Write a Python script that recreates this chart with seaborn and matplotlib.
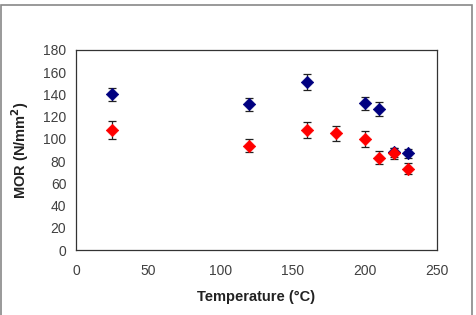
import matplotlib
matplotlib.use("Agg")
import matplotlib.pyplot as plt
import seaborn as sns
import pandas as pd
from matplotlib.patches import Rectangle

# Data
temp_blue = [25, 120, 160, 200, 210, 220, 230]
mor_blue = [140, 131, 151, 132, 127, 88, 87]
err_blue = [6, 6, 7, 6, 6, 4, 4]

temp_red = [25, 120, 160, 180, 200, 210, 220, 230]
mor_red = [108, 94, 108, 105, 100, 83, 87, 73]
err_red = [8, 6, 7, 7, 7, 6, 5, 5]

x_ticks = [0, 50, 100, 150, 200, 250]
y_ticks = [0, 20, 40, 60, 80, 100, 120, 140, 160, 180]

sns.set_style("white")
plt.rcParams['font.family'] = ['Liberation Sans', 'DejaVu Sans']

fig = plt.figure(figsize=(4.77, 3.15), dpi=100)
ax = fig.add_axes([0.1593, 0.2063, 0.7567, 0.635])

df_b = pd.DataFrame({"T": temp_blue, "MOR": mor_blue})
df_r = pd.DataFrame({"T": temp_red, "MOR": mor_red})

ax.errorbar(temp_blue, mor_blue, yerr=err_blue, fmt='none', ecolor='#222222',
            elinewidth=0.9, capsize=3, capthick=0.9, zorder=2)
ax.errorbar(temp_red, mor_red, yerr=err_red, fmt='none', ecolor='#222222',
            elinewidth=0.9, capsize=3, capthick=0.9, zorder=2)
sns.scatterplot(data=df_b, x="T", y="MOR", marker='D', color='#000080', s=40,
                edgecolor='#000080', linewidth=0.5, ax=ax, zorder=3)
sns.scatterplot(data=df_r, x="T", y="MOR", marker='D', color='#FF0000', s=40,
                edgecolor='#FF0000', linewidth=0.5, ax=ax, zorder=3)

ax.set_xlim(0, 250)
ax.set_ylim(0, 180)
ax.set_xticks(x_ticks)
ax.set_yticks(y_ticks)
ax.tick_params(axis='both', direction='out', length=4, width=0.8, color='#333333',
               labelsize=10, labelcolor='#404040', pad=3)
ax.tick_params(axis='x', pad=6)
for s in ax.spines.values():
    s.set_color('#333333')
    s.set_linewidth(0.9)

ax.set_xlabel("Temperature (°C)", fontsize=10.5, fontweight='bold', color='#222222', labelpad=9)
ax.set_ylabel("MOR (N/mm$^\\mathbf{2}$)", fontsize=10.5, fontweight='bold', color='#222222', labelpad=9)

fig.patches.append(Rectangle((1/477, -0.1), 471/477, 1.1 - 5/315, transform=fig.transFigure,
                             fill=False, edgecolor='#888888', linewidth=1.2))

fig.savefig("out.png", dpi=100)
